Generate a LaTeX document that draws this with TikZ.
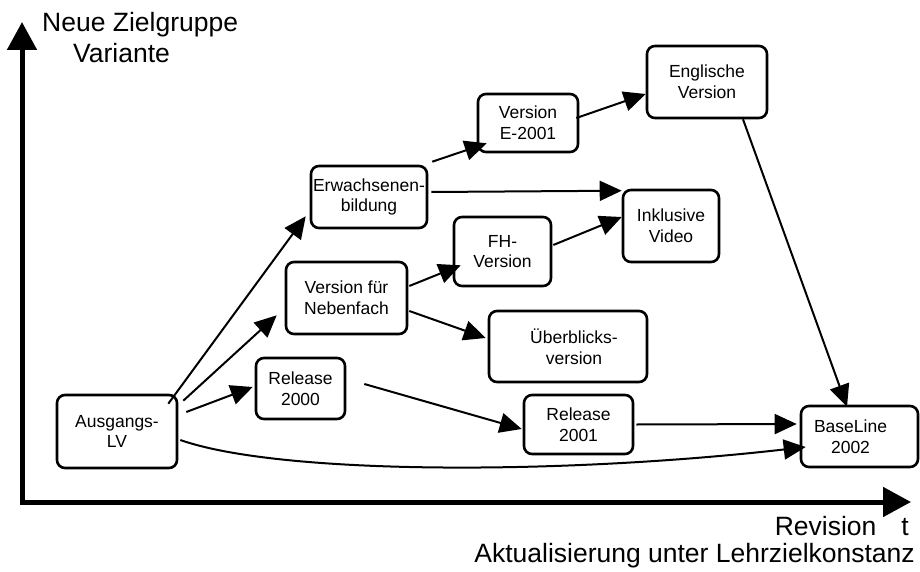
\documentclass[tikz,border=0pt]{standalone}
\usepackage{fontspec}
\setmainfont{Liberation Sans}
\usetikzlibrary{arrows.meta,calc}

\begin{document}
\begin{tikzpicture}[x=1pt,y=-1pt,
    box/.style={draw,rounded corners=8pt,line width=2.6pt,align=center,
      inner sep=0pt,font=\fontsize{17.5}{20.7}\selectfont},
    link/.style={line width=2pt,-{Triangle[length=22pt,width=20pt]}},
    axis/.style={line width=5pt,
      {Triangle[length=28pt,width=29pt]}-{Triangle[length=28pt,width=29pt]}},
    axlabel/.style={inner sep=0pt,font=\fontsize{26.5}{30}\selectfont}]
  \useasboundingbox (0,0) rectangle (920,572);

  % axes
  \coordinate (orig) at (22,502);
  \coordinate (ytop) at (22,22);
  \coordinate (xend) at (911,502);
  \draw[axis] (ytop) -- (orig) -- (xend);
  \node[axlabel,anchor=base west] (ylabA) at (42,32) {Neue Zielgruppe};
  \node[axlabel,anchor=base west] (ylabB) at (73,63) {Variante};
  \node[axlabel,anchor=base east] (xlabA) at (909,535) {Revision\hspace{25pt}t};
  \node[axlabel,anchor=base east] (xlabB) at (915,562) {Aktualisierung unter Lehrzielkonstanz};

  % versions
  \node[box,minimum width=120pt,minimum height=73pt] (aus) at (117,431.5) {Ausgangs-\\LV};
  \node[box,minimum width=89pt,minimum height=61pt] (rel00) at (300.5,388.5) {Release\\2000};
  \node[box,minimum width=121pt,minimum height=72pt] (neb) at (346.5,298) {Version für\\Nebenfach};
  \node[box,minimum width=116pt,minimum height=62pt] (erw) at (369,197) {Erwachsenen-\\bildung};
  \node[box,minimum width=97pt,minimum height=69pt] (fh) at (502.5,251.5) {FH-\\Version};
  \node[box,minimum width=158pt,minimum height=71pt] (ueb) at (568,346.5) {\hspace*{12pt}Überblicks-\\\hspace*{12pt}version};
  \node[box,minimum width=96pt,minimum height=72pt] (ink) at (671,226) {Inklusive\\Video};
  \node[box,minimum width=100pt,minimum height=58pt] (e01) at (528,123) {Version\\E-2001};
  \node[box,minimum width=120pt,minimum height=72pt] (eng) at (707,82) {Englische\\Version};
  \node[box,minimum width=109pt,minimum height=59pt] (rel01) at (578.5,424.5) {Release\\2001};
  \node[box,minimum width=117pt,minimum height=61pt] (base) at (859.5,436.5) {BaseLine\hspace*{18pt}\\2002\hspace*{18pt}};

  % arrows
  \draw[link] ($(aus.north east)+(-10,10)$) -- ($(erw.south west)+(-4,-13)$);
  \draw[link] ($(aus.north east)+(5,7)$) -- ($(neb.south west)+(-8,-20)$);
  \draw[link] ($(aus.east)+(8,-19.5)$) -- ($(rel00.west)+(-2,-1.5)$);
  \draw[link] ($(aus.east)+(2,8.5)$) .. controls (280,475) and (560,475) .. ($(base.west)+(6,10.5)$);
  \draw[link] ($(rel00.east)+(18,-4.5)$) -- ($(rel01.west)+(-1,4.5)$);
  \draw[link] ($(rel01.east)+(2,0)$) -- ($(base.west)+(-3,-12.5)$);
  \draw[link] ($(neb.east)+(1,-12)$) -- ($(fh.south west)+(8,-22)$);
  \draw[link] ($(neb.east)+(1,13)$) -- ($(ueb.west)+(-2,-8.5)$);
  \draw[link] ($(fh.east)+(1,-6.5)$) -- ($(ink.west)+(0,-9)$);
  \draw[link] ($(erw.east)+(3,-5)$) -- ($(ink.north west)+(0,2)$);
  \draw[link] ($(erw.north east)+(4,-3)$) -- ($(e01.south west)+(10,-10)$);
  \draw[link] ($(e01.east)+(-3,-5)$) -- ($(eng.west)+(0,12)$);
  \draw[link] ($(eng.south)+(36,0)$) -- ($(base.north)+(-12.5,2)$);
\end{tikzpicture}
\end{document}
